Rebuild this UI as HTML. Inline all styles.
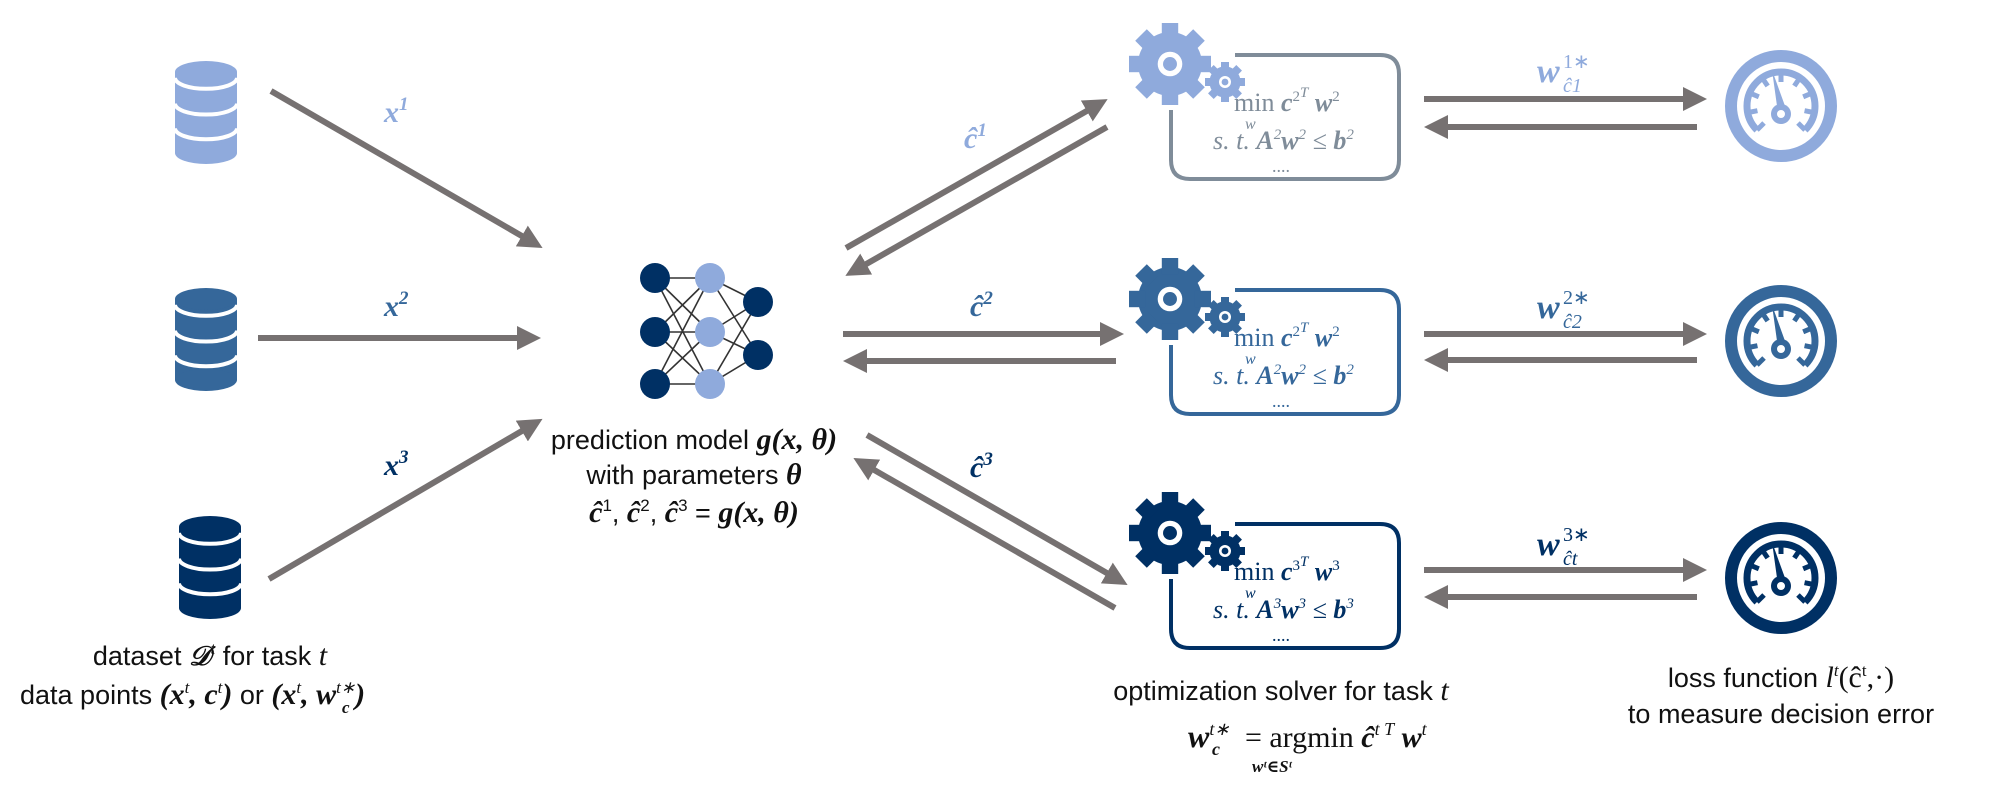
<!DOCTYPE html>
<html><head><meta charset="utf-8"><style>
body{margin:0;background:#fff;}
svg{display:block;}
.s{font-family:"Liberation Sans",sans-serif;font-size:27px;fill:#111;}
.m{font-family:"Liberation Serif","DejaVu Serif",serif;font-style:italic;font-weight:bold;}
</style></head><body>
<svg id="svg" width="2000" height="800" viewBox="0 0 2000 800">
<defs>
<marker id="ah" markerWidth="4" markerHeight="4" refX="1" refY="2" orient="auto" markerUnits="strokeWidth">
<polygon points="0,0 4,2 0,4" fill="#767171"/>
</marker>
</defs>
<g id="arrows" stroke="#767171" stroke-width="6" fill="none">
<line x1="271" y1="91" x2="527" y2="239" marker-end="url(#ah)"/>
<line x1="258" y1="338" x2="523" y2="338" marker-end="url(#ah)"/>
<line x1="269" y1="579" x2="527" y2="428" marker-end="url(#ah)"/>
<line x1="846" y1="248" x2="1092" y2="108" marker-end="url(#ah)"/>
<line x1="1107" y1="127" x2="861" y2="267" marker-end="url(#ah)"/>
<line x1="843" y1="334" x2="1106" y2="334" marker-end="url(#ah)"/>
<line x1="1116" y1="361" x2="861" y2="361" marker-end="url(#ah)"/>
<line x1="867" y1="435" x2="1112" y2="576" marker-end="url(#ah)"/>
<line x1="1115" y1="608" x2="869" y2="467" marker-end="url(#ah)"/>
<line x1="1424" y1="99" x2="1689" y2="99" marker-end="url(#ah)"/>
<line x1="1697" y1="127" x2="1442" y2="127" marker-end="url(#ah)"/>
<line x1="1424" y1="334" x2="1689" y2="334" marker-end="url(#ah)"/>
<line x1="1697" y1="360" x2="1442" y2="360" marker-end="url(#ah)"/>
<line x1="1424" y1="570" x2="1689" y2="570" marker-end="url(#ah)"/>
<line x1="1697" y1="597" x2="1442" y2="597" marker-end="url(#ah)"/>
</g>
<g id="nn"></g>
<g id="icons"></g>

<g class="m" font-size="30">
<text x="384" y="122" fill="#8faadc">x<tspan font-size="19" dy="-12">1</tspan></text>
<text x="384" y="316" fill="#35679a">x<tspan font-size="19" dy="-12">2</tspan></text>
<text x="384" y="475" fill="#003064">x<tspan font-size="19" dy="-12">3</tspan></text>
<text x="964" y="148" fill="#8faadc">ĉ<tspan font-size="19" dy="-12">1</tspan></text>
<text x="970" y="316" fill="#35679a">ĉ<tspan font-size="19" dy="-12">2</tspan></text>
<text x="970" y="477" fill="#003064">ĉ<tspan font-size="19" dy="-12">3</tspan></text>
</g>
<g font-family="Liberation Serif,serif">
<text x="1537" y="82" font-size="34" class="m" fill="#8faadc">w</text>
<text x="1563" y="68" font-size="20" fill="#8faadc">1∗</text>
<text x="1563" y="92" font-size="20" font-style="italic" fill="#8faadc">ĉ1</text>
<text x="1537" y="318" font-size="34" class="m" fill="#35679a">w</text>
<text x="1563" y="304" font-size="20" fill="#35679a">2∗</text>
<text x="1563" y="328" font-size="20" font-style="italic" fill="#35679a">ĉ2</text>
<text x="1537" y="555" font-size="34" class="m" fill="#003064">w</text>
<text x="1563" y="541" font-size="20" fill="#003064">3∗</text>
<text x="1563" y="565" font-size="20" font-style="italic" fill="#003064">ĉt</text>
</g>

<g class="s" text-anchor="middle">
<text x="694" y="449">prediction model <tspan class="m" font-weight="normal" font-size="30">g</tspan><tspan class="m" font-size="30">(x, θ)</tspan></text>
<text x="694" y="484">with parameters <tspan class="m" font-size="30">θ</tspan></text>
<text x="694" y="522"><tspan class="m" font-size="30">ĉ</tspan><tspan font-size="17" dy="-11">1</tspan><tspan dy="11">, </tspan><tspan class="m" font-size="30">ĉ</tspan><tspan font-size="17" dy="-11">2</tspan><tspan dy="11">, </tspan><tspan class="m" font-size="30">ĉ</tspan><tspan font-size="17" dy="-11">3</tspan><tspan dy="11"> = </tspan><tspan class="m" font-weight="normal" font-size="30">g</tspan><tspan class="m" font-size="30">(x, θ)</tspan></text>
<text x="210" y="665">dataset <tspan class="m" font-weight="normal">𝒟</tspan><tspan font-size="17" dy="-11" font-style="italic" font-family="Liberation Serif">t</tspan><tspan dy="11"> for task </tspan><tspan font-style="italic" font-family="Liberation Serif" font-size="30">t</tspan></text>
<text x="1281" y="700">optimization solver for task <tspan font-style="italic" font-family="Liberation Serif" font-size="30">t</tspan></text>
<text x="1781" y="687">loss function <tspan font-style="italic" font-family="Liberation Serif" font-size="30">l</tspan><tspan font-size="17" dy="-11" font-style="italic" font-family="Liberation Serif">t</tspan><tspan dy="11" font-family="Liberation Serif" font-size="30">(ĉ</tspan><tspan font-size="17" dy="-11" font-family="Liberation Serif">t</tspan><tspan dy="11" font-family="Liberation Serif" font-size="30">,·)</tspan></text>
<text x="1781" y="723">to measure decision error</text>
</g>
<g class="s">
<text x="20" y="704">data points <tspan class="m" font-size="30">(x</tspan><tspan font-size="17" dy="-11" font-style="italic" font-family="Liberation Serif">t</tspan><tspan dy="11" class="m" font-size="30">, c</tspan><tspan font-size="17" dy="-11" font-style="italic" font-family="Liberation Serif">t</tspan><tspan dy="11" class="m" font-size="30">)</tspan> or <tspan class="m" font-size="30">(x</tspan><tspan font-size="17" dy="-11" font-style="italic" font-family="Liberation Serif">t</tspan><tspan dy="11" class="m" font-size="30">, w</tspan><tspan font-size="17" dy="-11" font-style="italic" font-family="Liberation Serif">t∗</tspan><tspan dy="11" class="m" font-size="30">)</tspan></text>
<text x="342" y="713" font-size="17" class="m">c</text>
<text x="1188" y="747"><tspan class="m" font-size="32">w</tspan><tspan font-size="18" dy="-12" font-style="italic" font-family="Liberation Serif">t∗</tspan><tspan dy="12" dx="8" font-family="Liberation Serif" font-size="30"> = argmin </tspan><tspan class="m" font-size="30">ĉ</tspan><tspan font-size="18" dy="-12" font-style="italic" font-family="Liberation Serif">t T</tspan><tspan dy="12" class="m" font-size="30"> w</tspan><tspan font-size="18" dy="-12" font-style="italic" font-family="Liberation Serif">t</tspan></text>
<text x="1212" y="755" font-size="18" class="m">c</text>
<text x="1252" y="772" font-size="17" class="m">wᵗ∈Sᵗ</text>
</g>
</svg>
<script>
const NS='http://www.w3.org/2000/svg';
const colors=['#8faadc','#35679a','#003064'];
const boxColors=['#7f8c99','#35679a','#003064'];
const dbY=[61,288,516];
const dbX=[206,206,210];
const rowY=[55,290,524];
const gaugeY=[106,341,578];
const icons=document.getElementById('icons');
function mk(tag,attrs,parent){const e=document.createElementNS(NS,tag);for(const k in attrs)e.setAttribute(k,attrs[k]);(parent||icons).appendChild(e);return e;}
function gear(cx,cy,r,teeth,col,parent,name){
  const g=mk('g',{fill:col},parent);
  
  
  mk('circle',{cx:cx,cy:cy,r:r*0.78},g);
  for(let i=0;i<teeth;i++){const a=360/teeth*i;
    mk('rect',{x:cx-r*0.2,y:cy-r,width:r*0.4,height:r*0.4,transform:`rotate(${a} ${cx} ${cy})`},g);}
  mk('circle',{cx:cx,cy:cy,r:r*0.3,fill:'#fff'},g);
  mk('circle',{cx:cx,cy:cy,r:r*0.17,fill:col},g);
}
for(let i=0;i<3;i++){
  const c=colors[i];
  const db=mk('g',{fill:c});
  
  
  const x=dbX[i],y=dbY[i],rx=31,ry=11,h=103;
  mk('rect',{x:x-rx,y:y+ry,width:2*rx,height:h-2*ry},db);
  mk('ellipse',{cx:x,cy:y+ry,rx:rx,ry:ry},db);
  mk('ellipse',{cx:x,cy:y+h-ry,rx:rx,ry:ry},db);
  for(const f of [0.27,0.52,0.76]){const yy=y+h*f;
    mk('path',{d:`M${x-rx} ${yy-ry} A${rx} ${ry} 0 0 0 ${x+rx} ${yy-ry}`,stroke:'#fff','stroke-width':4,fill:'none'},db);}
  const bg=mk('g',{});
  
  
  const by=rowY[i],bc=boxColors[i];
  const n=i==2?3:2;
  mk('path',{d:`M1235 ${by} H1380 Q1399 ${by} 1399 ${by+19} V${by+105} Q1399 ${by+124} 1380 ${by+124} H1190 Q1171 ${by+124} 1171 ${by+105} V${by+55}`,fill:'none',stroke:bc,'stroke-width':4},bg);
  const t1=mk('text',{x:1234,y:by+56,'font-family':'Liberation Serif,serif','font-size':26,fill:bc},bg);
  t1.innerHTML=`min <tspan font-style="italic" font-weight="bold">c</tspan><tspan font-size="15" dy="-10">${n}</tspan><tspan font-size="15" dy="-4" font-style="italic">T</tspan><tspan dy="14" font-style="italic" font-weight="bold"> w</tspan><tspan font-size="15" dy="-10">${n}</tspan>`;
  mk('text',{x:1245,y:by+74,'font-family':'Liberation Serif,serif','font-size':16,'font-style':'italic',fill:bc},bg).textContent='w';
  const t2=mk('text',{x:1213,y:by+94,'font-family':'Liberation Serif,serif','font-size':26,'font-style':'italic',fill:bc},bg);
  t2.innerHTML=`s. t. <tspan font-weight="bold">A</tspan><tspan font-size="15" dy="-10">${n}</tspan><tspan dy="10" font-weight="bold">w</tspan><tspan font-size="15" dy="-10">${n}</tspan><tspan dy="10"> ≤ </tspan><tspan font-weight="bold">b</tspan><tspan font-size="15" dy="-10">${n}</tspan>`;
  mk('text',{x:1272,y:by+117,'font-family':'Liberation Serif,serif','font-size':18,fill:bc},bg).textContent='....';
  gear(1170,by+9,41,8,c,icons,'gear-large-'+(i+1));
  gear(1225,by+27,20,8,c,icons,'gear-small-'+(i+1));
  const gg=mk('g',{});
  
  
  const gx=1781,gy=gaugeY[i];
  mk('circle',{cx:gx,cy:gy,r:50,fill:'none',stroke:c,'stroke-width':12},gg);
  const R=34,a0=135*Math.PI/180,a1=45*Math.PI/180;
  mk('path',{d:`M${gx+R*Math.cos(a0)} ${gy+R*Math.sin(a0)} A${R} ${R} 0 1 1 ${gx+R*Math.cos(a1)} ${gy+R*Math.sin(a1)}`,fill:'none',stroke:c,'stroke-width':7},gg);
  for(let k=0;k<9;k++){const a=(135+k*270/8)*Math.PI/180;
    mk('line',{x1:gx+R*Math.cos(a),y1:gy+R*Math.sin(a),x2:gx+(R-10)*Math.cos(a),y2:gy+(R-10)*Math.sin(a),stroke:c,'stroke-width':5},gg);}
  mk('polygon',{points:`${gx-4},${gy} ${gx+4},${gy} ${gx-9},${gy-36}`,fill:c},gg);
  mk('circle',{cx:gx,cy:gy+8,r:10,fill:c},gg);
  mk('circle',{cx:gx,cy:gy+8,r:4,fill:'#fff'},gg);
}
const nn=document.getElementById('nn');
const L1=[278,332,384],L2=[278,332,384],L3=[302,355];
const X1=655,X2=710,X3=758;
for(const a of L1)for(const b of L2)mk('line',{x1:X1,y1:a,x2:X2,y2:b,stroke:'#333','stroke-width':1.6},nn);
for(const a of L2)for(const b of L3)mk('line',{x1:X2,y1:a,x2:X3,y2:b,stroke:'#333','stroke-width':1.6},nn);
for(const y of L1)mk('ellipse',{cx:X1,cy:y,rx:15,ry:15,fill:'#003064'},nn);
for(const y of L2)mk('ellipse',{cx:X2,cy:y,rx:15,ry:15,fill:'#8faadc'},nn);
for(const y of L3)mk('ellipse',{cx:X3,cy:y,rx:15,ry:15,fill:'#003064'},nn);
</script>
</body></html>
